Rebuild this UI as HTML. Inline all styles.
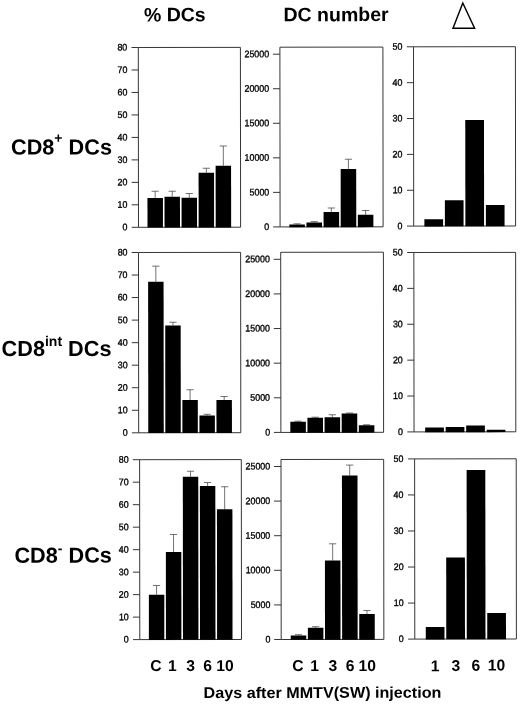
<!DOCTYPE html>
<html><head><meta charset="utf-8"><title>Figure</title>
<style>
html,body{margin:0;padding:0;background:#fff}
svg{display:block}
text{font-family:"Liberation Sans",Arial,Helvetica,sans-serif;fill:#000}
.tk{font-size:9.6px;text-anchor:end;fill:#000;stroke:#000;stroke-width:0.35px}
.ti{font-size:19.5px;font-weight:bold}
.rl{font-size:21.7px;font-weight:bold;text-anchor:end}
.sp{font-size:14px}
.xl{font-size:15.7px;font-weight:bold;text-anchor:middle}
.bt{font-size:15.5px;font-weight:bold}
.ln{stroke:#2b2b2b;stroke-width:0.95;fill:none}
.eb{stroke:#444;stroke-width:0.75;fill:none}
</style></head><body>
<svg width="520" height="704" viewBox="0 0 520 704">
<rect width="520" height="704" fill="#fff"/>
<g transform="rotate(-0.060 260.0 352.0)">
<text class="ti" x="144.25" y="21.28">% DCs</text>
<text class="ti" x="283.85" y="21.22">DC number</text>
<path d="M463.17 3.21 L453.34 28.40 L474.94 28.42 Z" fill="#fff" stroke="#000" stroke-width="1.45" stroke-linejoin="miter"/>
<text class="rl" x="112.21" y="154.25">CD8<tspan class="sp" dy="-11.7">+</tspan><tspan dy="11.7"> DCs</tspan></text>
<text class="rl" x="111.50" y="355.74">CD8<tspan class="sp" dy="-9.9">int</tspan><tspan dy="9.9"> DCs</tspan></text>
<text class="rl" x="111.68" y="562.44">CD8<tspan class="sp" dy="-9.6">-</tspan><tspan dy="9.6"> DCs</tspan></text>
<g>
<path class="ln" d="M138.62 47.37 H240.73 V227.18 H138.62 Z"/>
<path class="ln" d="M131.82 227.18 H138.62"/><text class="tk" transform="translate(127.62 230.18) scale(0.925 1)">0</text>
<path class="ln" d="M131.82 204.70 H138.62"/><text class="tk" transform="translate(127.62 207.70) scale(0.925 1)">10</text>
<path class="ln" d="M131.82 182.23 H138.62"/><text class="tk" transform="translate(127.62 185.23) scale(0.925 1)">20</text>
<path class="ln" d="M131.82 159.75 H138.62"/><text class="tk" transform="translate(127.62 162.75) scale(0.925 1)">30</text>
<path class="ln" d="M131.82 137.28 H138.62"/><text class="tk" transform="translate(127.62 140.28) scale(0.925 1)">40</text>
<path class="ln" d="M131.82 114.80 H138.62"/><text class="tk" transform="translate(127.62 117.80) scale(0.925 1)">50</text>
<path class="ln" d="M131.82 92.32 H138.62"/><text class="tk" transform="translate(127.62 95.32) scale(0.925 1)">60</text>
<path class="ln" d="M131.82 69.85 H138.62"/><text class="tk" transform="translate(127.62 72.85) scale(0.925 1)">70</text>
<path class="ln" d="M131.82 47.37 H138.62"/><text class="tk" transform="translate(127.62 50.37) scale(0.925 1)">80</text>
<path class="eb" d="M155.34 197.89 V191.14 M151.74 191.14 H158.94"/><rect x="147.62" y="197.89" width="15.45" height="29.59" fill="#000"/>
<path class="eb" d="M172.39 196.66 V191.16 M168.79 191.16 H175.99"/><rect x="164.67" y="196.66" width="15.45" height="30.82" fill="#000"/>
<path class="eb" d="M189.44 197.68 V193.43 M185.84 193.43 H193.04"/><rect x="181.72" y="197.68" width="15.45" height="29.80" fill="#000"/>
<path class="eb" d="M206.49 172.69 V168.19 M202.89 168.19 H210.09"/><rect x="198.77" y="172.69" width="15.45" height="54.79" fill="#000"/>
<path class="eb" d="M223.54 165.71 V145.96 M219.94 145.96 H227.14"/><rect x="215.82" y="165.71" width="15.45" height="61.77" fill="#000"/>
</g>
<g>
<path class="ln" d="M280.22 47.22 H383.23 V226.93 H280.22 Z"/>
<path class="ln" d="M273.22 226.93 H280.22"/><text class="tk" transform="translate(269.42 229.93) scale(0.925 1)">0</text>
<path class="ln" d="M273.22 192.39 H280.22"/><text class="tk" transform="translate(269.42 195.39) scale(0.925 1)">5000</text>
<path class="ln" d="M273.22 157.85 H280.22"/><text class="tk" transform="translate(269.42 160.85) scale(0.925 1)">10000</text>
<path class="ln" d="M273.22 123.30 H280.22"/><text class="tk" transform="translate(269.42 126.30) scale(0.925 1)">15000</text>
<path class="ln" d="M273.22 88.76 H280.22"/><text class="tk" transform="translate(269.42 91.76) scale(0.925 1)">20000</text>
<path class="ln" d="M273.22 54.22 H280.22"/><text class="tk" transform="translate(269.42 57.22) scale(0.925 1)">25000</text>
<path class="eb" d="M297.23 224.54 V223.84 M293.63 223.84 H300.83"/><rect x="289.47" y="224.54" width="15.53" height="2.69" fill="#000"/>
<path class="eb" d="M314.36 222.56 V221.66 M310.76 221.66 H317.96"/><rect x="306.60" y="222.56" width="15.53" height="4.67" fill="#000"/>
<path class="eb" d="M331.49 212.07 V208.07 M327.89 208.07 H335.09"/><rect x="323.73" y="212.07" width="15.53" height="15.15" fill="#000"/>
<path class="eb" d="M348.62 169.09 V159.34 M345.02 159.34 H352.22"/><rect x="340.86" y="169.09" width="15.53" height="58.14" fill="#000"/>
<path class="eb" d="M365.75 214.91 V210.61 M362.15 210.61 H369.35"/><rect x="357.99" y="214.91" width="15.53" height="12.32" fill="#000"/>
</g>
<g>
<path class="ln" d="M413.82 46.96 H515.73 V226.27 H413.82 Z"/>
<path class="ln" d="M407.12 226.27 H413.82"/><text class="tk" transform="translate(402.67 229.27) scale(0.925 1)">0</text>
<path class="ln" d="M407.12 190.41 H413.82"/><text class="tk" transform="translate(402.67 193.41) scale(0.925 1)">10</text>
<path class="ln" d="M407.12 154.55 H413.82"/><text class="tk" transform="translate(402.67 157.55) scale(0.925 1)">20</text>
<path class="ln" d="M407.12 118.68 H413.82"/><text class="tk" transform="translate(402.67 121.68) scale(0.925 1)">30</text>
<path class="ln" d="M407.12 82.82 H413.82"/><text class="tk" transform="translate(402.67 85.82) scale(0.925 1)">40</text>
<path class="ln" d="M407.12 46.96 H413.82"/><text class="tk" transform="translate(402.67 49.96) scale(0.925 1)">50</text>
<rect x="424.52" y="219.43" width="18.70" height="7.14" fill="#000"/>
<rect x="445.02" y="200.45" width="18.70" height="26.11" fill="#000"/>
<rect x="465.52" y="120.23" width="18.70" height="106.34" fill="#000"/>
<rect x="486.02" y="205.25" width="18.70" height="21.32" fill="#000"/>
</g>
<g>
<path class="ln" d="M138.60 252.37 H240.72 V432.68 H138.60 Z"/>
<path class="ln" d="M131.80 432.68 H138.60"/><text class="tk" transform="translate(127.60 435.68) scale(0.925 1)">0</text>
<path class="ln" d="M131.80 410.14 H138.60"/><text class="tk" transform="translate(127.60 413.14) scale(0.925 1)">10</text>
<path class="ln" d="M131.80 387.60 H138.60"/><text class="tk" transform="translate(127.60 390.60) scale(0.925 1)">20</text>
<path class="ln" d="M131.80 365.06 H138.60"/><text class="tk" transform="translate(127.60 368.06) scale(0.925 1)">30</text>
<path class="ln" d="M131.80 342.53 H138.60"/><text class="tk" transform="translate(127.60 345.53) scale(0.925 1)">40</text>
<path class="ln" d="M131.80 319.99 H138.60"/><text class="tk" transform="translate(127.60 322.99) scale(0.925 1)">50</text>
<path class="ln" d="M131.80 297.45 H138.60"/><text class="tk" transform="translate(127.60 300.45) scale(0.925 1)">60</text>
<path class="ln" d="M131.80 274.91 H138.60"/><text class="tk" transform="translate(127.60 277.91) scale(0.925 1)">70</text>
<path class="ln" d="M131.80 252.37 H138.60"/><text class="tk" transform="translate(127.60 255.37) scale(0.925 1)">80</text>
<path class="eb" d="M155.93 281.64 V266.04 M152.33 266.04 H159.53"/><rect x="148.20" y="281.64" width="15.45" height="151.34" fill="#000"/>
<path class="eb" d="M172.98 325.41 V322.16 M169.38 322.16 H176.58"/><rect x="165.25" y="325.41" width="15.45" height="107.57" fill="#000"/>
<path class="eb" d="M190.03 399.93 V389.68 M186.43 389.68 H193.63"/><rect x="182.30" y="399.93" width="15.45" height="33.05" fill="#000"/>
<path class="eb" d="M207.08 415.44 V414.24 M203.48 414.24 H210.68"/><rect x="199.35" y="415.44" width="15.45" height="17.54" fill="#000"/>
<path class="eb" d="M224.13 399.96 V396.46 M220.53 396.46 H227.73"/><rect x="216.40" y="399.96" width="15.45" height="33.02" fill="#000"/>
</g>
<g>
<path class="ln" d="M280.80 252.32 H383.52 V432.43 H280.80 Z"/>
<path class="ln" d="M273.80 432.43 H280.80"/><text class="tk" transform="translate(270.00 435.43) scale(0.925 1)">0</text>
<path class="ln" d="M273.80 397.81 H280.80"/><text class="tk" transform="translate(270.00 400.81) scale(0.925 1)">5000</text>
<path class="ln" d="M273.80 363.19 H280.80"/><text class="tk" transform="translate(270.00 366.19) scale(0.925 1)">10000</text>
<path class="ln" d="M273.80 328.56 H280.80"/><text class="tk" transform="translate(270.00 331.56) scale(0.925 1)">15000</text>
<path class="ln" d="M273.80 293.94 H280.80"/><text class="tk" transform="translate(270.00 296.94) scale(0.925 1)">20000</text>
<path class="ln" d="M273.80 259.32 H280.80"/><text class="tk" transform="translate(270.00 262.32) scale(0.925 1)">25000</text>
<path class="eb" d="M298.02 421.79 V421.24 M294.42 421.24 H301.62"/><rect x="290.25" y="421.79" width="15.53" height="10.94" fill="#000"/>
<path class="eb" d="M315.15 417.81 V417.26 M311.55 417.26 H318.75"/><rect x="307.38" y="417.81" width="15.53" height="14.92" fill="#000"/>
<path class="eb" d="M332.28 417.33 V414.83 M328.68 414.83 H335.88"/><rect x="324.51" y="417.33" width="15.53" height="15.40" fill="#000"/>
<path class="eb" d="M349.41 413.59 V413.09 M345.81 413.09 H353.01"/><rect x="341.64" y="413.59" width="15.53" height="19.14" fill="#000"/>
<path class="eb" d="M366.54 425.41 V424.91 M362.94 424.91 H370.14"/><rect x="358.77" y="425.41" width="15.53" height="7.32" fill="#000"/>
</g>
<g>
<path class="ln" d="M413.95 252.66 H515.72 V432.07 H413.95 Z"/>
<path class="ln" d="M407.25 432.07 H413.95"/><text class="tk" transform="translate(402.80 435.07) scale(0.925 1)">0</text>
<path class="ln" d="M407.25 396.19 H413.95"/><text class="tk" transform="translate(402.80 399.19) scale(0.925 1)">10</text>
<path class="ln" d="M407.25 360.31 H413.95"/><text class="tk" transform="translate(402.80 363.31) scale(0.925 1)">20</text>
<path class="ln" d="M407.25 324.42 H413.95"/><text class="tk" transform="translate(402.80 327.42) scale(0.925 1)">30</text>
<path class="ln" d="M407.25 288.54 H413.95"/><text class="tk" transform="translate(402.80 291.54) scale(0.925 1)">40</text>
<path class="ln" d="M407.25 252.66 H413.95"/><text class="tk" transform="translate(402.80 255.66) scale(0.925 1)">50</text>
<rect x="425.10" y="427.68" width="18.70" height="4.69" fill="#000"/>
<rect x="445.60" y="427.20" width="18.70" height="5.16" fill="#000"/>
<rect x="466.10" y="425.63" width="18.70" height="6.74" fill="#000"/>
<rect x="486.60" y="430.05" width="18.70" height="2.32" fill="#000"/>
</g>
<g>
<path class="ln" d="M139.49 459.57 H241.20 V639.48 H139.49 Z"/>
<path class="ln" d="M132.69 639.48 H139.49"/><text class="tk" transform="translate(128.49 642.48) scale(0.925 1)">0</text>
<path class="ln" d="M132.69 616.99 H139.49"/><text class="tk" transform="translate(128.49 619.99) scale(0.925 1)">10</text>
<path class="ln" d="M132.69 594.50 H139.49"/><text class="tk" transform="translate(128.49 597.50) scale(0.925 1)">20</text>
<path class="ln" d="M132.69 572.02 H139.49"/><text class="tk" transform="translate(128.49 575.02) scale(0.925 1)">30</text>
<path class="ln" d="M132.69 549.53 H139.49"/><text class="tk" transform="translate(128.49 552.53) scale(0.925 1)">40</text>
<path class="ln" d="M132.69 527.04 H139.49"/><text class="tk" transform="translate(128.49 530.04) scale(0.925 1)">50</text>
<path class="ln" d="M132.69 504.55 H139.49"/><text class="tk" transform="translate(128.49 507.55) scale(0.925 1)">60</text>
<path class="ln" d="M132.69 482.06 H139.49"/><text class="tk" transform="translate(128.49 485.06) scale(0.925 1)">70</text>
<path class="ln" d="M132.69 459.57 H139.49"/><text class="tk" transform="translate(128.49 462.57) scale(0.925 1)">80</text>
<path class="eb" d="M156.31 594.64 V585.39 M152.71 585.39 H159.91"/><rect x="148.59" y="594.64" width="15.45" height="45.14" fill="#000"/>
<path class="eb" d="M173.36 551.91 V534.41 M169.76 534.41 H176.96"/><rect x="165.64" y="551.91" width="15.45" height="87.87" fill="#000"/>
<path class="eb" d="M190.41 476.68 V471.18 M186.81 471.18 H194.01"/><rect x="182.69" y="476.68" width="15.45" height="163.10" fill="#000"/>
<path class="eb" d="M207.46 485.94 V482.44 M203.86 482.44 H211.06"/><rect x="199.74" y="485.94" width="15.45" height="153.84" fill="#000"/>
<path class="eb" d="M224.51 509.21 V486.71 M220.91 486.71 H228.11"/><rect x="216.79" y="509.21" width="15.45" height="130.57" fill="#000"/>
</g>
<g>
<path class="ln" d="M280.89 459.52 H383.55 V639.53 H280.89 Z"/>
<path class="ln" d="M273.89 639.53 H280.89"/><text class="tk" transform="translate(270.09 642.53) scale(0.925 1)">0</text>
<path class="ln" d="M273.89 604.93 H280.89"/><text class="tk" transform="translate(270.09 607.93) scale(0.925 1)">5000</text>
<path class="ln" d="M273.89 570.33 H280.89"/><text class="tk" transform="translate(270.09 573.33) scale(0.925 1)">10000</text>
<path class="ln" d="M273.89 535.72 H280.89"/><text class="tk" transform="translate(270.09 538.72) scale(0.925 1)">15000</text>
<path class="ln" d="M273.89 501.12 H280.89"/><text class="tk" transform="translate(270.09 504.12) scale(0.925 1)">20000</text>
<path class="ln" d="M273.89 466.52 H280.89"/><text class="tk" transform="translate(270.09 469.52) scale(0.925 1)">25000</text>
<path class="eb" d="M298.20 635.54 V634.74 M294.60 634.74 H301.80"/><rect x="290.44" y="635.54" width="15.53" height="4.29" fill="#000"/>
<path class="eb" d="M315.33 627.81 V626.76 M311.73 626.76 H318.93"/><rect x="307.57" y="627.81" width="15.53" height="12.02" fill="#000"/>
<path class="eb" d="M332.46 560.68 V543.88 M328.86 543.88 H336.06"/><rect x="324.70" y="560.68" width="15.53" height="79.15" fill="#000"/>
<path class="eb" d="M349.59 475.59 V465.19 M345.99 465.19 H353.19"/><rect x="341.83" y="475.59" width="15.53" height="164.24" fill="#000"/>
<path class="eb" d="M366.72 614.11 V610.61 M363.12 610.61 H370.32"/><rect x="358.96" y="614.11" width="15.53" height="25.72" fill="#000"/>
</g>
<g>
<path class="ln" d="M414.49 459.06 H516.10 V639.27 H414.49 Z"/>
<path class="ln" d="M407.79 639.27 H414.49"/><text class="tk" transform="translate(403.34 642.27) scale(0.925 1)">0</text>
<path class="ln" d="M407.79 603.23 H414.49"/><text class="tk" transform="translate(403.34 606.23) scale(0.925 1)">10</text>
<path class="ln" d="M407.79 567.19 H414.49"/><text class="tk" transform="translate(403.34 570.19) scale(0.925 1)">20</text>
<path class="ln" d="M407.79 531.14 H414.49"/><text class="tk" transform="translate(403.34 534.14) scale(0.925 1)">30</text>
<path class="ln" d="M407.79 495.10 H414.49"/><text class="tk" transform="translate(403.34 498.10) scale(0.925 1)">40</text>
<path class="ln" d="M407.79 459.06 H414.49"/><text class="tk" transform="translate(403.34 462.06) scale(0.925 1)">50</text>
<rect x="425.49" y="627.18" width="18.70" height="12.39" fill="#000"/>
<rect x="445.99" y="557.70" width="18.70" height="81.86" fill="#000"/>
<rect x="466.49" y="470.23" width="18.70" height="169.34" fill="#000"/>
<rect x="486.99" y="613.25" width="18.70" height="26.32" fill="#000"/>
</g>
<text class="xl" x="155.47" y="670.89">C</text>
<text class="xl" x="171.97" y="670.91">1</text>
<text class="xl" x="190.27" y="670.93">3</text>
<text class="xl" x="207.27" y="670.94">6</text>
<text class="xl" x="224.57" y="670.96">10</text>
<text class="xl" x="297.67" y="671.04">C</text>
<text class="xl" x="314.27" y="671.06">1</text>
<text class="xl" x="332.57" y="671.08">3</text>
<text class="xl" x="349.77" y="671.09">6</text>
<text class="xl" x="366.87" y="671.11">10</text>
<text class="xl" x="434.87" y="671.38">1</text>
<text class="xl" x="455.57" y="671.30">3</text>
<text class="xl" x="475.57" y="670.93">6</text>
<text class="xl" x="496.07" y="670.85">10</text>
<text class="bt" x="203.24" y="697.94" textLength="237.8" lengthAdjust="spacingAndGlyphs">Days after MMTV(SW) injection</text>
</g>
</svg>
</body></html>
